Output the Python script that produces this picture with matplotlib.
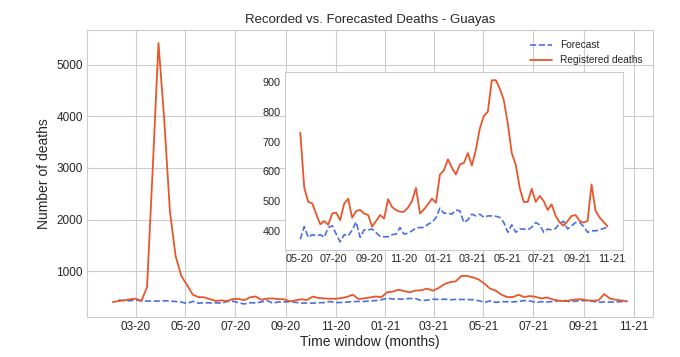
import numpy as np
import pandas as pd
import matplotlib
matplotlib.use("Agg")
import matplotlib.pyplot as plt
import matplotlib.dates as mdates
import seaborn as sns

# weekly data, Guayas
dates = pd.date_range("2020-02-02", periods=91, freq="7D")

registered = [400, 420, 433, 453, 466, 420, 690, 3000, 5420, 3950, 2160, 1290, 905,
              730, 544, 497, 492, 456, 422, 433, 420, 458, 461, 436, 491, 508,
              444, 467, 470, 458, 453, 414, 433, 453, 441, 506, 480, 470, 464,
              464, 478, 500, 544, 458, 472, 489, 508, 494, 589, 603, 640, 612,
              589, 623, 628, 661, 619, 672, 744, 786, 800, 906, 906, 878, 839,
              761, 661, 622, 544, 497, 497, 541, 497, 517, 500, 470, 489, 450,
              428, 417, 433, 450, 453, 433, 428, 433, 556, 467, 445, 430, 415]

forecast = [np.nan, 440, 430, 425, 440, 425, 420, 420, 420, 425, 420, 410, 400,
            372, 414, 378, 387, 383, 387, 378, 411, 417, 389, 363, 387, 383,
            402, 430, 378, 403, 403, 406, 394, 381, 380, 380, 387, 389, 411,
            389, 392, 400, 409, 411, 411, 422, 428, 444, 476, 459, 459, 456,
            470, 467, 428, 437, 456, 450, 456, 445, 450, 450, 449, 445, 428,
            395, 420, 395, 406, 406, 403, 412, 428, 420, 395, 406, 403, 408,
            425, 432, 406, 417, 428, 428, 415, 395, 400, 400, 403, 408, 412]

inset_start = 13  # inset starts in May 2020

sns.set_style("whitegrid")
plt.rcParams['font.family'] = ['Liberation Sans', 'DejaVu Sans']

blue = '#4a6fe3'
orange = '#e8562a'
txt = '#262626'

fig = plt.figure(figsize=(6.8, 3.57), dpi=100)
ax = fig.add_axes([0.128, 0.112, 0.832, 0.804])
ax.plot(dates, forecast, '--', color=blue, lw=1.2, label='Forecast')
ax.plot(dates, registered, '-', color=orange, lw=1.3, label='Registered deaths')
ax.xaxis.set_major_locator(mdates.MonthLocator(bymonth=[1, 3, 5, 7, 9, 11]))
ax.xaxis.set_major_formatter(mdates.DateFormatter('%m-%y'))
ax.tick_params(labelsize=8.5, length=0, pad=3, labelcolor=txt)
ax.set_title('Recorded vs. Forecasted Deaths - Guayas', fontsize=9.5, color=txt, pad=5)
ax.set_xlabel('Time window (months)', fontsize=10, labelpad=1, color=txt)
ax.set_ylabel('Number of deaths', fontsize=10, color=txt)
ax.legend(loc='upper right', fontsize=7.3, frameon=False, handlelength=2.2,
          borderaxespad=0.6)

# zoomed inset
ins = fig.add_axes([0.419, 0.30, 0.497, 0.498])
ins.plot(dates[inset_start:], forecast[inset_start:], '--', color=blue, lw=1.2)
ins.plot(dates[inset_start:], registered[inset_start:], '-', color=orange, lw=1.3)
ins.xaxis.set_major_locator(mdates.MonthLocator(bymonth=[1, 3, 5, 7, 9, 11]))
ins.xaxis.set_major_formatter(mdates.DateFormatter('%m-%y'))
ins.tick_params(labelsize=7.8, length=0, pad=3, labelcolor=txt)
ins.grid(False)

fig.savefig('out.png', dpi=100)
